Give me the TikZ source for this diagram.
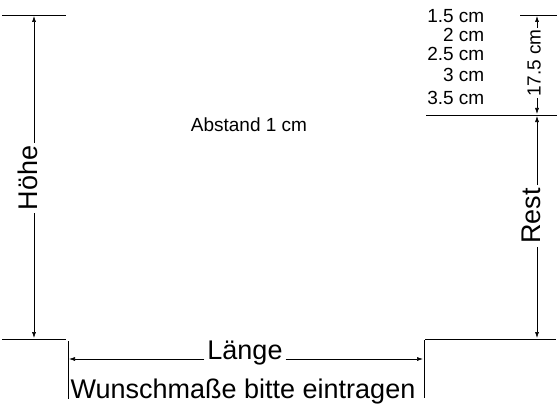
\documentclass[tikz,border=0pt]{standalone}
\usepackage{fontspec}
\setmainfont{Liberation Sans}
\usetikzlibrary{arrows.meta}
\tikzset{
    big/.style={font=\fontsize{27}{27}\selectfont, inner xsep=3pt, inner ysep=0pt, text height=0.72em, text depth=0pt},
    small/.style={font=\fontsize{19}{19}\selectfont, inner xsep=1.5pt, inner ysep=0pt, text height=0.72em, text depth=0pt},
    dim/.style={semithick, -{Latex[length=6pt, width=4pt]}},
    edge/.style={semithick}
}
\begin{document}
\begin{tikzpicture}[x=1pt, y=-1pt]
    \useasboundingbox (0, 0) rectangle (560, 420);
        % Kanten
        \draw[edge] (2, 15) -- (66, 15);
        \draw[edge] (2, 339) -- (66, 339);
        \draw[edge] (68, 341) -- (68, 399);
        \draw[edge] (424, 340) -- (424, 398);
        \draw[edge] (425, 339) -- (556, 339);
        \draw[edge] (426, 115) -- (557, 115);
        \draw[edge] (520, 15) -- (557, 15);
        % Hoehe
        \coordinate (hoehe top) at (34, 16);
        \coordinate (hoehe bottom) at (34, 338);
        \node[big, rotate=90] (hoehe) at (34, 178) {Höhe};
        \draw[dim] (hoehe.east) -- (hoehe top);
        \draw[dim] (hoehe.west) -- (hoehe bottom);
        % Laenge
        \coordinate (laenge left) at (69, 359);
        \coordinate (laenge right) at (423, 359);
        \node[big] (laenge) at (245, 356) {Länge};
        \draw[dim] (laenge.west |- laenge left) -- (laenge left);
        \draw[dim] (laenge.east |- laenge right) -- (laenge right);
        % Abstand oben
        \coordinate (oben top) at (537, 16);
        \coordinate (oben bottom) at (537, 114);
        \node[small, rotate=90] (oben) at (537, 63) {17.5 cm};
        \draw[dim] (oben.east) -- (oben top);
        \draw[dim] (oben.west) -- (oben bottom);
        % Rest
        \coordinate (rest top) at (537, 116);
        \coordinate (rest bottom) at (537, 338);
        \node[big, rotate=90] (rest) at (537, 216) {Rest};
        \draw[dim] (rest.east) -- (rest top);
        \draw[dim] (rest.west) -- (rest bottom);
        % Masse
        \node[small, anchor=east] (mass a) at (486, 18.5) {1.5 cm};
        \node[small, anchor=east] (mass b) at (486, 37.5) {2 cm};
        \node[small, anchor=east] (mass c) at (486, 56.5) {2.5 cm};
        \node[small, anchor=east] (mass d) at (486, 77.5) {3 cm};
        \node[small, anchor=east] (mass e) at (486, 101) {3.5 cm};
        \node[small] (abstand) at (249, 128) {Abstand 1 cm};
        \node[big] (wunsch) at (243, 395) {Wunschmaße bitte eintragen};
    \end{tikzpicture}
\end{document}
